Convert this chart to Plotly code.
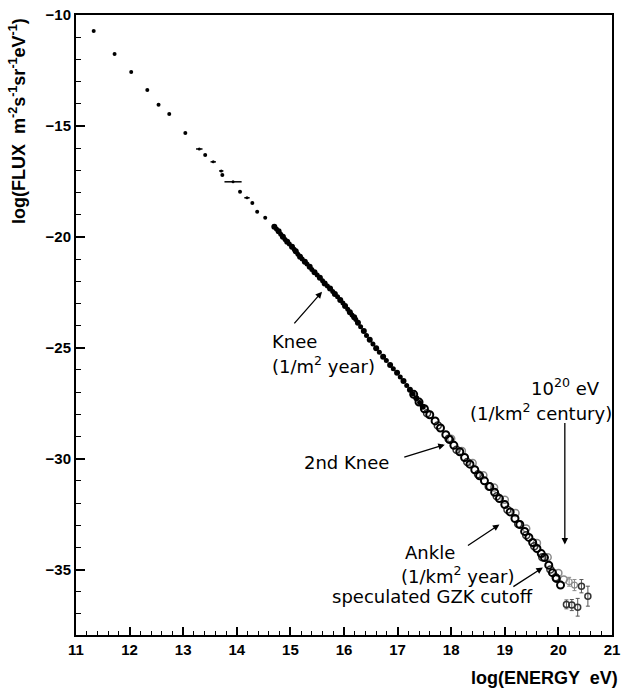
import plotly.graph_objects as go

# ---- data ----
# sparse low-energy points (filled dots)
low_x = [11.33, 11.72, 12.03, 12.33, 12.54, 12.74, 13.04, 13.41, 13.73, 14.06, 14.29, 14.38, 14.53]
low_y = [-10.72, -11.76, -12.57, -13.38, -14.05, -14.46, -15.32, -16.31, -17.21, -17.97, -18.47, -18.87, -19.14]

# points drawn with horizontal error bars
bar_x = [13.30, 13.56, 13.71, 13.93, 14.19]
bar_y = [-16.04, -16.62, -17.03, -17.52, -18.24]
bar_ex = [0.06, 0.05, 0.04, 0.16, 0.05]

# dense filled dots (air-shower region), two overlapping experiments
dot_x = [14.70, 14.78, 14.86, 14.94, 15.03, 15.10, 15.18, 15.27, 15.36, 15.45, 15.55, 15.64, 15.74,
         15.83, 15.93, 16.02, 16.11, 16.19, 16.26, 16.37, 16.48, 16.60, 16.73, 16.86, 16.99, 17.11,
         17.23, 17.35, 17.47]
dot_y = [-19.55, -19.75, -20.00, -20.22, -20.45, -20.65, -20.90, -21.12, -21.35, -21.60, -21.85, -22.10,
         -22.33, -22.58, -22.85, -23.12, -23.40, -23.63, -23.87, -24.25, -24.64, -25.02, -25.41, -25.78,
         -26.13, -26.50, -26.89, -27.28, -27.66]
dot2_x = [14.74, 14.82, 14.90, 14.98, 15.07, 15.14, 15.22, 15.31, 15.40, 15.50, 15.60, 15.69, 15.79, 15.88,
          15.98, 16.07, 16.15, 16.22, 16.31, 16.42, 16.54, 16.66, 16.79, 16.92, 17.05, 17.17, 17.29, 17.41]
dot2_y = [-19.65, -19.88, -20.12, -20.32, -20.56, -20.78, -21.00, -21.22, -21.47, -21.72, -21.98, -22.22,
          -22.46, -22.70, -22.98, -23.26, -23.52, -23.73, -24.05, -24.45, -24.83, -25.20, -25.58, -25.95,
          -26.32, -26.70, -27.08, -27.47]

# open circles (dark)
circ_x = [17.30, 17.40, 17.50, 17.60, 17.70, 17.80, 17.90, 17.97, 18.05, 18.16, 18.25, 18.35, 18.44,
          18.53, 18.62, 18.72, 18.81, 18.90, 19.00, 19.10, 19.19, 19.28, 19.37, 19.45, 19.52, 19.60,
          19.68, 19.74, 19.82, 19.89, 19.96, 20.04]
circ_y = [-27.10, -27.45, -27.75, -28.02, -28.30, -28.62, -28.92, -29.14, -29.40, -29.69, -29.95, -30.25,
          -30.50, -30.77, -31.00, -31.26, -31.52, -31.80, -32.07, -32.40, -32.70, -32.97, -33.28, -33.55,
          -33.78, -34.05, -34.28, -34.46, -34.80, -35.14, -35.40, -35.70]

# second dark circle set (slightly offset)
circ2_x = [17.55, 17.75, 17.95, 18.10, 18.30, 18.50, 18.70, 18.85, 19.05, 19.25, 19.40, 19.55, 19.70, 19.85, 19.95]
circ2_y = [-27.95, -28.50, -29.10, -29.60, -30.15, -30.70, -31.25, -31.70, -32.30, -32.95, -33.45, -33.95, -34.45, -35.00, -35.35]

# grey open circles (another experiment)
grey_x = [18.00, 18.20, 18.40, 18.60, 18.80, 19.00, 19.20, 19.40, 19.60, 19.80, 20.00, 20.10]
grey_y = [-29.10, -29.65, -30.20, -30.75, -31.30, -31.85, -32.45, -33.15, -33.80, -34.45, -35.15, -35.45]

# highest-energy points with vertical error bars
hi_x = [20.15, 20.25, 20.36, 20.43, 20.55]
hi_y = [-36.57, -36.60, -36.70, -35.75, -36.20]
hi_ey = [0.20, 0.25, 0.40, 0.30, 0.45]
hig_x = [20.20, 20.30]
hig_y = [-35.55, -35.70]
hig_ey = [0.20, 0.25]

fig = go.Figure()

fig.add_trace(go.Scatter(x=low_x, y=low_y, mode="markers",
                         marker=dict(symbol="circle", size=4, color="black")))
fig.add_trace(go.Scatter(x=bar_x, y=bar_y, mode="markers",
                         marker=dict(symbol="circle", size=3, color="black"),
                         error_x=dict(type="data", array=bar_ex, color="black", thickness=1.5, width=0)))
fig.add_trace(go.Scatter(x=dot_x, y=dot_y, mode="markers",
                         marker=dict(symbol="circle", size=6, color="black")))
fig.add_trace(go.Scatter(x=dot2_x, y=dot2_y, mode="markers",
                         marker=dict(symbol="circle", size=5, color="black")))
fig.add_trace(go.Scatter(x=grey_x, y=grey_y, mode="markers",
                         marker=dict(symbol="circle-open", size=7, color="#8a8a8a", line=dict(width=1.5))))
fig.add_trace(go.Scatter(x=circ2_x, y=circ2_y, mode="markers",
                         marker=dict(symbol="circle-open", size=7, color="#333333", line=dict(width=1.5))))
fig.add_trace(go.Scatter(x=circ_x, y=circ_y, mode="markers",
                         marker=dict(symbol="circle-open", size=7, color="black", line=dict(width=2))))
fig.add_trace(go.Scatter(x=hig_x, y=hig_y, mode="markers",
                         marker=dict(symbol="circle-open", size=6, color="#8a8a8a", line=dict(width=1.2)),
                         error_y=dict(type="data", array=hig_ey, color="#8a8a8a", thickness=1, width=2)))
fig.add_trace(go.Scatter(x=hi_x, y=hi_y, mode="markers",
                         marker=dict(symbol="circle-open", size=6, color="#333333", line=dict(width=1.5)),
                         error_y=dict(type="data", array=hi_ey, color="#555555", thickness=1, width=2)))

afont = dict(family="DejaVu Sans", size=18, color="black")

# arrows (tip at data point, tail offset in pixels)
arrows = [
    (15.59, -22.48, -29, 33),
    (17.88, -29.37, -42, 13),
    (18.90, -32.97, -33, 22),
    (19.71, -34.91, -31, 20),
    (20.12, -33.87, 0, -123),
]
for x, y, ax, ay in arrows:
    fig.add_annotation(x=x, y=y, ax=ax, ay=ay, xref="x", yref="y", text="", showarrow=True,
                       arrowhead=2, arrowsize=1, arrowwidth=1.3, arrowcolor="black")

texts = [
    ("Knee", 14.62, -24.73, "left"),
    ("(1/m<sup>2</sup> year)", 14.62, -25.77, "left"),
    ("2nd Knee", 15.22, -30.18, "left"),
    ("Ankle", 17.10, -34.23, "left"),
    ("(1/km<sup>2</sup> year)", 17.02, -35.23, "left"),
    ("speculated GZK cutoff", 15.74, -36.22, "left"),
    ("10<sup>20</sup> eV", 20.13, -26.76, "center"),
    ("(1/km<sup>2</sup> century)", 19.67, -27.88, "center"),
]
for t, x, y, anc in texts:
    fig.add_annotation(x=x, y=y, xref="x", yref="y", text=t, showarrow=False,
                       xanchor=anc, yanchor="middle", font=afont)

# axis titles
fig.add_annotation(text="log(FLUX  m<sup>-2</sup>s<sup>-1</sup>sr<sup>-1</sup>eV<sup>-1</sup>)",
                   xref="paper", yref="paper", x=-0.11, y=0.829, textangle=-90,
                   xanchor="center", yanchor="middle", showarrow=False,
                   font=dict(family="Liberation Sans", size=18, color="black", weight="bold"))
fig.add_annotation(text="log(ENERGY  eV)", xref="paper", yref="paper", x=1.014, y=-0.069,
                   xanchor="right", yanchor="middle", showarrow=False,
                   font=dict(family="Liberation Sans", size=18, color="black", weight="bold"))

tickfont = dict(family="Liberation Sans", size=15, color="black", weight="bold")
fig.update_xaxes(range=[11, 21], tickmode="array", tickvals=list(range(11, 22)),
                 ticks="inside", ticklen=8, tickwidth=1.5, tickcolor="black",
                 minor=dict(dtick=0.2, tick0=11, ticks="inside", ticklen=4, tickwidth=1.2, tickcolor="black"),
                 showline=True, linewidth=2, linecolor="black", mirror=True,
                 showgrid=False, zeroline=False, tickfont=tickfont)
fig.update_yaxes(range=[-37.95, -10], tickmode="array", tickvals=[-10, -15, -20, -25, -30, -35],
                 ticks="inside", ticklen=9, tickwidth=1.5, tickcolor="black",
                 minor=dict(dtick=1, tick0=-10, ticks="inside", ticklen=5, tickwidth=1.2, tickcolor="black"),
                 showline=True, linewidth=2, linecolor="black", mirror=True,
                 showgrid=False, zeroline=False, tickfont=tickfont)

fig.update_layout(width=625, height=693, margin=dict(l=76, r=13, t=15, b=58, autoexpand=False),
                  plot_bgcolor="white", paper_bgcolor="white", showlegend=False)

fig.write_html("out.html")
